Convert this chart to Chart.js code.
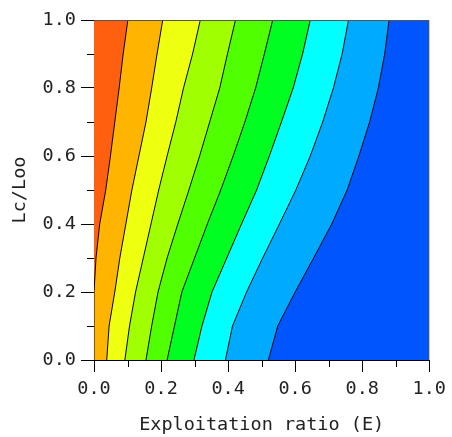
<!DOCTYPE html>
<html>
<head>
<meta charset="utf-8">
<script src="https://cdn.jsdelivr.net/npm/chart.js@4/dist/chart.umd.min.js"></script>
<style>
  body { margin: 0; background: #fff; }
</style>
</head>
<body>
<canvas id="grafico" width="452" height="437"></canvas>
<script>
// niveis de Lc/Loo onde as curvas foram lidas
const yNiveis = [0, 0.1, 0.2, 0.3, 0.4, 0.5, 0.6, 0.7, 0.8, 0.9, 1.0];

// E de cada curva de contorno, um valor por nivel acima (da esquerda p/ direita)
const curva1 = [0, 0, 0, 0.006, 0.017, 0.035, 0.049, 0.062, 0.075, 0.087, 0.101];
const curva2 = [0.038, 0.045, 0.062, 0.077, 0.095, 0.113, 0.134, 0.155, 0.172, 0.188, 0.205];
const curva3 = [0.092, 0.106, 0.124, 0.147, 0.170, 0.193, 0.218, 0.244, 0.267, 0.294, 0.317];
const curva4 = [0.155, 0.172, 0.191, 0.218, 0.250, 0.283, 0.315, 0.345, 0.375, 0.398, 0.422];
const curva5 = [0.218, 0.240, 0.262, 0.300, 0.338, 0.378, 0.415, 0.450, 0.482, 0.508, 0.533];
const curva6 = [0.298, 0.322, 0.352, 0.396, 0.440, 0.485, 0.523, 0.559, 0.594, 0.622, 0.645];
const curva7 = [0.392, 0.413, 0.455, 0.503, 0.553, 0.602, 0.645, 0.682, 0.714, 0.740, 0.759];
const curva8 = [0.520, 0.548, 0.600, 0.655, 0.709, 0.755, 0.790, 0.822, 0.848, 0.867, 0.880];

const coresFaixas = [
  "#ff600f", "#ffb400", "#eeff10", "#a0ff00", "#50ff00",
  "#00ff20", "#00ffff", "#00aaff", "#0055ff",
];

const ticksMaiores = ["0.0", "0.2", "0.4", "0.6", "0.8", "1.0"];
const ticksMenores = [0.1, 0.3, 0.5, 0.7, 0.9];

const bordaEsq = yNiveis.map(() => 0);
const bordaDir = yNiveis.map(() => 1);
const curvas = [curva1, curva2, curva3, curva4, curva5, curva6, curva7, curva8];
const limites = [bordaEsq, ...curvas, bordaDir];

// faixas preenchidas: sobe pela curva da esquerda, desce pela da direita
const datasets = [];
for (let i = 0; i < coresFaixas.length; i++) {
  const esq = limites[i];
  const dir = limites[i + 1];
  const pts = [];
  yNiveis.forEach((y, k) => pts.push({ x: esq[k], y: y }));
  for (let k = yNiveis.length - 1; k >= 0; k--) {
    pts.push({ x: dir[k], y: yNiveis[k] });
  }
  datasets.push({
    data: pts,
    backgroundColor: coresFaixas[i],
    borderWidth: 0,
    pointRadius: 0,
    fill: "shape",
    order: 1,
  });
}

// linhas pretas de contorno
curvas.forEach((c) => {
  datasets.push({
    data: yNiveis.map((y, k) => ({ x: c[k], y: y })),
    borderColor: "#000",
    borderWidth: 1,
    pointRadius: 0,
    fill: false,
    order: 0,
  });
});

const fonte = { family: "DejaVu Sans Mono", size: 18.5 };

// ticks menores e moldura de cima/direita
const extras = {
  id: "extras",
  afterDraw(chart) {
    const ctx = chart.ctx;
    const a = chart.chartArea;
    const sx = chart.scales.x;
    const sy = chart.scales.y;
    ctx.save();
    ctx.strokeStyle = "#000";
    ctx.lineWidth = 1;
    ctx.beginPath();
    ticksMenores.forEach((v) => {
      const px = Math.round(sx.getPixelForValue(v)) + 0.5;
      ctx.moveTo(px, a.bottom);
      ctx.lineTo(px, a.bottom + 7);
      const py = Math.round(sy.getPixelForValue(v)) + 0.5;
      ctx.moveTo(a.left - 7, py);
      ctx.lineTo(a.left, py);
    });
    ctx.stroke();
    ctx.strokeStyle = "#555";
    ctx.beginPath();
    ctx.moveTo(a.left, a.top + 0.5);
    ctx.lineTo(a.right - 0.5, a.top + 0.5);
    ctx.lineTo(a.right - 0.5, a.bottom);
    ctx.stroke();
    ctx.restore();
  },
};

const ctx = document.getElementById("grafico").getContext("2d");
const grafico = new Chart(ctx, {
  type: "line",
  data: { datasets: datasets },
  options: {
    responsive: false,
    animation: false,
    layout: { padding: { top: 20, right: 19, left: 0, bottom: 0 } },
    plugins: {
      legend: { display: false },
      tooltip: { enabled: false },
    },
    scales: {
      x: {
        type: "linear",
        min: 0,
        max: 1,
        afterFit: (s) => { s.height = 77; },
        border: { color: "#000", width: 1 },
        grid: { drawOnChartArea: false, tickLength: 12, color: "#000" },
        ticks: {
          stepSize: 0.2,
          padding: 6,
          color: "#222",
          font: fonte,
          maxRotation: 0,
          callback: (v) => ticksMaiores[Math.round(v * 5)],
        },
        title: {
          display: true,
          text: "Exploitation ratio (E)",
          color: "#222",
          font: fonte,
          padding: { top: 0, bottom: 1 },
        },
      },
      y: {
        type: "linear",
        min: 0,
        max: 1,
        afterFit: (s) => { s.width = 94; },
        border: { color: "#000", width: 1 },
        grid: { drawOnChartArea: false, tickLength: 13, color: "#000" },
        ticks: {
          stepSize: 0.2,
          padding: 5,
          color: "#222",
          font: fonte,
          callback: (v) => ticksMaiores[Math.round(v * 5)],
        },
        title: {
          display: true,
          text: "Lc/Loo",
          color: "#222",
          font: fonte,
          padding: { top: 9, bottom: 0 },
        },
      },
    },
  },
  plugins: [extras],
});
</script>
</body>
</html>
